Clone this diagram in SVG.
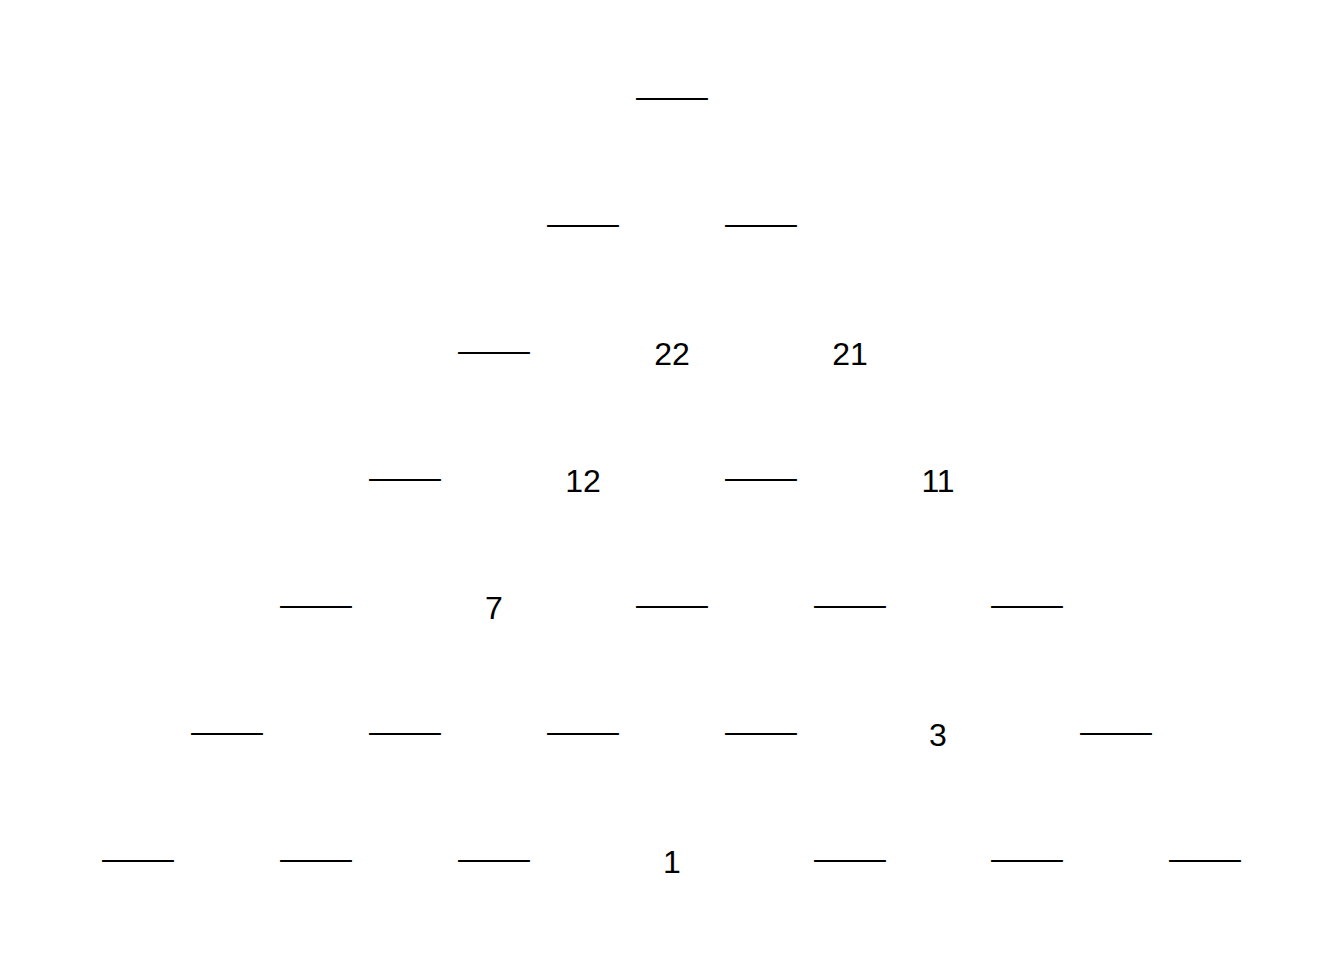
<svg xmlns="http://www.w3.org/2000/svg" width="1344" height="960" viewBox="0 0 1344 960">
<style>
text{font-family:"Liberation Sans",Arial,sans-serif;font-size:32px;fill:#000;text-anchor:middle}
</style>
<rect width="1344" height="960" fill="#fff"/>
<g id="connectors"></g>
<g id="r0c0"><text class="b" x="672" y="94">____</text></g>
<g id="r1c0"><text class="b" x="583" y="221">____</text></g>
<g id="r1c1"><text class="b" x="761" y="221">____</text></g>
<g id="r2c0"><text class="b" x="494" y="348">____</text></g>
<g id="r2c1"><text x="672" y="365">22</text></g>
<g id="r2c2"><text x="850" y="365">21</text></g>
<g id="r3c0"><text class="b" x="405" y="475">____</text></g>
<g id="r3c1"><text x="583" y="492">12</text></g>
<g id="r3c2"><text class="b" x="761" y="475">____</text></g>
<g id="r3c3"><text x="938" y="492">11</text></g>
<g id="r4c0"><text class="b" x="316" y="602">____</text></g>
<g id="r4c1"><text x="494" y="619">7</text></g>
<g id="r4c2"><text class="b" x="672" y="602">____</text></g>
<g id="r4c3"><text class="b" x="850" y="602">____</text></g>
<g id="r4c4"><text class="b" x="1027" y="602">____</text></g>
<g id="r5c0"><text class="b" x="227" y="729">____</text></g>
<g id="r5c1"><text class="b" x="405" y="729">____</text></g>
<g id="r5c2"><text class="b" x="583" y="729">____</text></g>
<g id="r5c3"><text class="b" x="761" y="729">____</text></g>
<g id="r5c4"><text x="938" y="746">3</text></g>
<g id="r5c5"><text class="b" x="1116" y="729">____</text></g>
<g id="r6c0"><text class="b" x="138" y="856">____</text></g>
<g id="r6c1"><text class="b" x="316" y="856">____</text></g>
<g id="r6c2"><text class="b" x="494" y="856">____</text></g>
<g id="r6c3"><text x="672" y="873">1</text></g>
<g id="r6c4"><text class="b" x="850" y="856">____</text></g>
<g id="r6c5"><text class="b" x="1027" y="856">____</text></g>
<g id="r6c6"><text class="b" x="1205" y="856">____</text></g>
</svg>
